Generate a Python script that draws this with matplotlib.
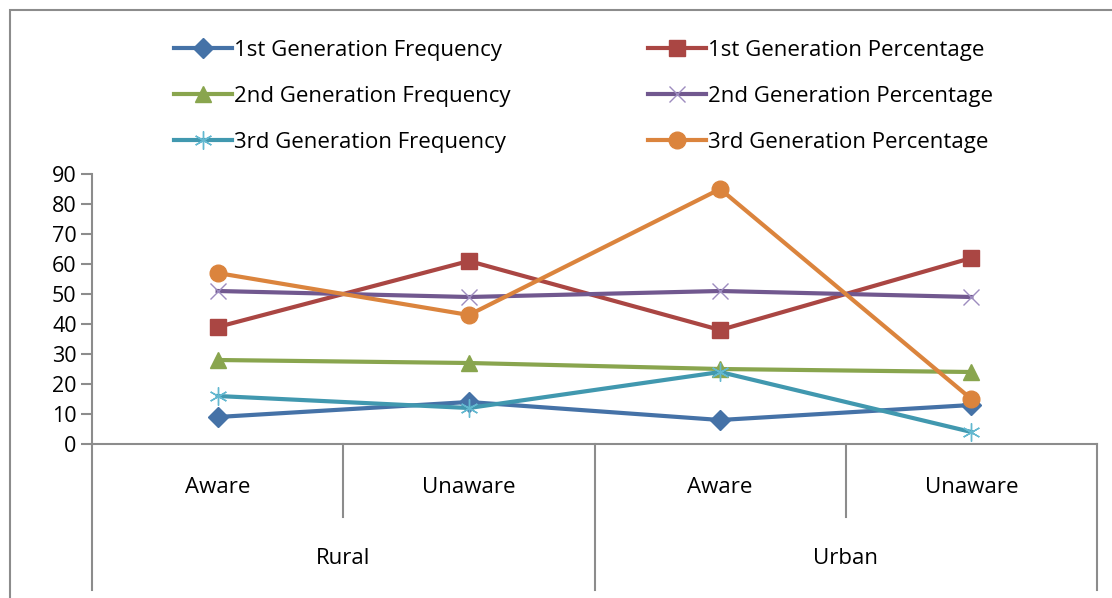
import matplotlib
matplotlib.use("Agg")
import matplotlib.pyplot as plt
from matplotlib.lines import Line2D
from matplotlib.patches import Rectangle

# values
areas = ["Rural", "Urban"]
awareness = ["Aware", "Unaware", "Aware", "Unaware"]
yticks = [0, 10, 20, 30, 40, 50, 60, 70, 80, 90]

freq_1st = [9, 14, 8, 13]
pct_1st = [39, 61, 38, 62]
freq_2nd = [28, 27, 25, 24]
pct_2nd = [51, 49, 51, 49]
freq_3rd = [16, 12, 24, 4]
pct_3rd = [57, 43, 85, 15]

plt.rcParams["font.family"] = ["Open Sans", "DejaVu Sans"]

W, H = 1112, 598
fig = plt.figure(figsize=(W / 100, H / 100), dpi=100)

# outer chart frame
fig.patches.append(Rectangle((10 / W, -0.05), 1.2, 1 - 10 / H + 0.05,
                             transform=fig.transFigure, fill=False,
                             edgecolor="#8c8c8c", lw=1.5))

ax = fig.add_axes([92 / W, 1 - 444 / H, (1097 - 92) / W, 270 / H])

x = list(range(len(awareness)))
series = [
    ("1st Generation Frequency", freq_1st, "#4572A7", "D", 10, {}),
    ("2nd Generation Frequency", freq_2nd, "#89A54E", "^", 12, {}),
    ("3rd Generation Frequency", freq_3rd, "#4198AF", (6, 2, 0), 13,
     {"markeredgewidth": 1.0}),
    ("1st Generation Percentage", pct_1st, "#AA4643", "s", 12, {}),
    ("2nd Generation Percentage", pct_2nd, "#71588F", "x", 12,
     {"markeredgewidth": 1.0, "markeredgecolor": "#9d8cbf"}),
    ("3rd Generation Percentage", pct_3rd, "#DB843D", "o", 12, {}),
]

handles = []
for name, vals, col, mk, ms, extra in series:
    kw = dict(color=col, lw=3, marker=mk, markersize=ms, label=name)
    if mk == (6, 2, 0):
        kw["markeredgecolor"] = "#63b8d0"
    kw.update(extra)
    ax.plot(x, vals, **kw)
    handles.append(Line2D([], [], **kw))

ax.set_xlim(-0.5, 3.5)
ax.set_ylim(0, 90)
ax.set_yticks(yticks)
ax.set_xticks([])
for s in ("top", "right"):
    ax.spines[s].set_visible(False)
for s in ("left", "bottom"):
    ax.spines[s].set_color("#8c8c8c")
    ax.spines[s].set_linewidth(1.5)
ax.tick_params(axis="y", direction="out", length=8, width=1.5,
               color="#8c8c8c", labelsize=15.5, pad=3)

# two-level category axis
tr = ax.get_xaxis_transform()
for xv in [0.5, 2.5]:
    ax.plot([xv, xv], [0, -0.27], transform=tr, color="#8c8c8c",
            lw=1.5, clip_on=False)
for xv in [-0.5, 1.5, 3.5]:
    ax.plot([xv, xv], [0, -0.54], transform=tr, color="#8c8c8c",
            lw=1.5, clip_on=False)
for xi, lab in zip(x, awareness):
    ax.text(xi, -0.16, lab, transform=tr, ha="center", va="center",
            fontsize=16)
for i, lab in enumerate(areas):
    ax.text(2 * i + 0.5, -0.425, lab, transform=tr, ha="center",
            va="center", fontsize=16)

fig.legend(handles=handles, ncol=2, loc="upper left",
           bbox_to_anchor=(165 / W, 1 - 31 / H), frameon=False,
           fontsize=16, handlelength=2.6, handletextpad=0.1,
           columnspacing=6.2, labelspacing=1.12, borderaxespad=0)

fig.savefig("out.png", dpi=100)
